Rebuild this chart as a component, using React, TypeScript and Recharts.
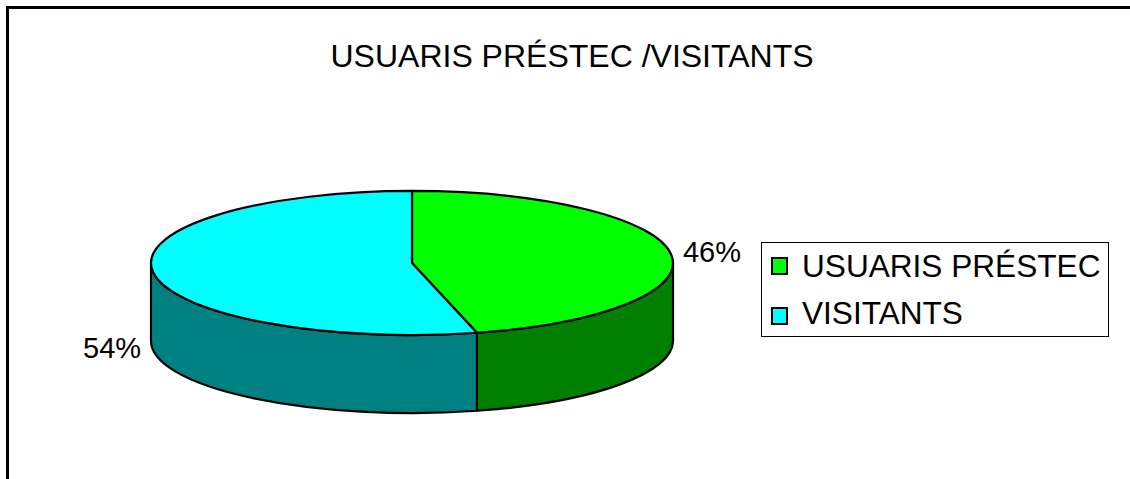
import React from 'react';
import { PieChart, Pie, Cell, Legend } from 'recharts';

const TITLE = 'USUARIS PRÉSTEC /VISITANTS';
const categories = ['USUARIS PRÉSTEC', 'VISITANTS'];
const values = [46, 54];

const TOP_COLORS = ['#00FF00', '#00FFFF'];
const SIDE_COLORS: Record<string, string> = { '#00FF00': '#008000', '#00FFFF': '#008080' };

const FONT = '"Liberation Sans", Arial, sans-serif';
const TILT = 0.276;
const DEPTH = 78;
const RAD = Math.PI / 180;

const data = categories.map((name, i) => ({ name, value: values[i] }));

function Slice3D(props: any) {
  const { cx, cy, outerRadius, startAngle, endAngle, fill } = props;
  const rx = outerRadius;
  const ry = outerRadius * TILT;
  const pt = (a: number, dy = 0) => `${cx + rx * Math.cos(a * RAD)},${cy - ry * Math.sin(a * RAD) + dy}`;
  const hi = Math.max(startAngle, endAngle);
  const lo = Math.min(startAngle, endAngle);
  const large = hi - lo > 180 ? 1 : 0;
  const top = `M${cx},${cy} L${pt(hi)} A${rx},${ry} 0 ${large} 1 ${pt(lo)} Z`;
  const sides: string[] = [];
  for (let k = Math.floor(lo / 360) - 1; k <= Math.ceil(hi / 360) + 1; k++) {
    const a1 = Math.max(lo, k * 360 - 180);
    const a2 = Math.min(hi, k * 360);
    if (a2 > a1) {
      sides.push(
        `M${pt(a2)} A${rx},${ry} 0 0 1 ${pt(a1)} L${pt(a1, DEPTH)} A${rx},${ry} 0 0 0 ${pt(a2, DEPTH)} Z`
      );
    }
  }
  const side = SIDE_COLORS[fill] || fill;
  return (
    <g>
      {sides.map((d, i) => (
        <path key={i} d={d} fill={side} stroke="#000" strokeWidth={2.2} strokeLinejoin="round" />
      ))}
      <path d={top} fill={fill} stroke="#000" strokeWidth={2.2} strokeLinejoin="round" />
    </g>
  );
}

const renderLabel = (p: any) => {
  const { cx, cy, outerRadius, midAngle, percent } = p;
  const rx = outerRadius;
  const ry = outerRadius * TILT;
  const c = Math.cos(midAngle * RAD);
  const s = Math.sin(midAngle * RAD);
  const x = cx + rx * c + (c >= 0 ? 12 : -12);
  const y = cy - ry * s + (s < 0 ? DEPTH : 0) - 2;
  return (
    <text
      x={x}
      y={y}
      textAnchor={c >= 0 ? 'start' : 'end'}
      dominantBaseline="central"
      fontSize={29}
      fontFamily={FONT}
      fill="#000"
    >
      {`${Math.round(percent * 100)}%`}
    </text>
  );
};

const renderLegend = (props: any) => {
  const payload = props.payload || [];
  return (
    <svg width={348} height={96} style={{ display: 'block' }}>
      <rect x={0.5} y={0.5} width={347} height={94} fill="#fff" stroke="#000" strokeWidth={1} />
      {payload.map((e: any, i: number) => (
        <g key={i}>
          <rect x={11} y={16 + i * 50} width={15} height={16} fill={e.color} stroke="#000" strokeWidth={2} />
          <text x={41} y={35 + i * 47} fontSize={31.6} fontFamily={FONT} fill="#000">
            {e.value}
          </text>
        </g>
      ))}
    </svg>
  );
};

export default function App() {
  return (
    <div style={{ position: 'absolute', left: 0, top: 0, width: 1130, height: 479, overflow: 'hidden', background: '#fff' }}>
      <svg width={1130} height={479} style={{ position: 'absolute', left: 0, top: 0 }}>
        <rect x={7.5} y={7.5} width={1140} height={490} fill="#fff" stroke="#000" strokeWidth={3} />
        <text x={572} y={67} textAnchor="middle" fontSize={32} fontFamily={FONT} fill="#000">
          {TITLE}
        </text>
      </svg>
      <div style={{ position: 'absolute', left: 0, top: 0 }}>
        <PieChart width={1130} height={479} margin={{ top: 0, right: 0, bottom: 0, left: 0 }}>
          <Pie
            data={data}
            dataKey="value"
            nameKey="name"
            cx={412}
            cy={263}
            outerRadius={261}
            startAngle={90}
            endAngle={-270}
            isAnimationActive={false}
            shape={Slice3D}
            inactiveShape={Slice3D}
            label={renderLabel}
            labelLine={false}
            stroke="#000"
          >
            {data.map((d, i) => (
              <Cell key={d.name} fill={TOP_COLORS[i]} />
            ))}
          </Pie>
          <Legend
            layout="vertical"
            align="right"
            verticalAlign="middle"
            content={renderLegend}
            wrapperStyle={{ position: 'absolute', left: 761, top: 242, width: 348, height: 96 }}
          />
        </PieChart>
      </div>
    </div>
  );
}
